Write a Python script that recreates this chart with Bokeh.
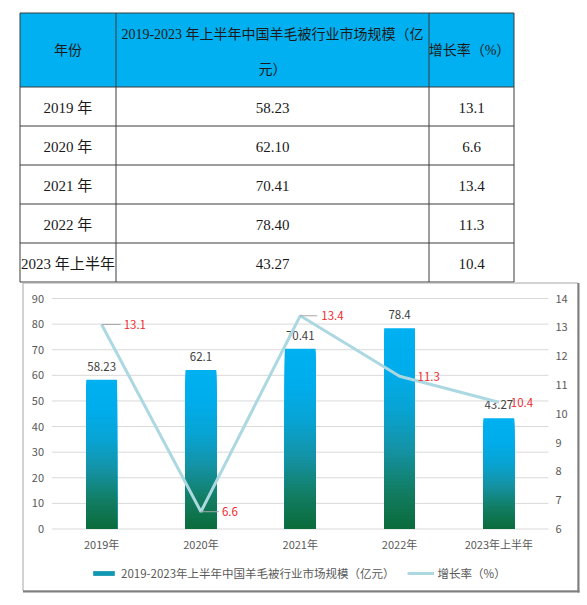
from bokeh.plotting import figure
from bokeh.models import Range1d, ColumnDataSource, Legend, LegendItem
from bokeh.core.properties import value
from bokeh.embed import file_html
from bokeh.resources import INLINE

# ---- data -------------------------------------------------------------
years = ["2019年", "2020年", "2021年", "2022年", "2023年上半年"]
market_size = [58.23, 62.10, 70.41, 78.40, 43.27]     # 亿元
growth_rate = [13.1, 6.6, 13.4, 11.3, 10.4]           # %
size_ticks = [0, 10, 20, 30, 40, 50, 60, 70, 80, 90]
rate_ticks = [6, 7, 8, 9, 10, 11, 12, 13, 14]
series_name = "2019-2023年上半年中国羊毛被行业市场规模（亿元）"
rate_name = "增长率（%）"
header_year = "年份"
header_size = "2019-2023 年上半年中国羊毛被行业市场规模（亿元）"
header_rate = "增长率（%）"

# ---- fonts & colours ----------------------------------------------------
SERIF = value("Liberation Serif, Noto Sans CJK SC")
SANS_NAME = "Noto Sans CJK SC"
SANS = value(SANS_NAME)
HEADER_BLUE = "#00b0f0"
BORDER = "#3c3c3c"
AXIS_TEXT = "#595959"
LABEL_RED = "#ee2a2f"
LINE_BLUE = "#acd8e2"

# ---- page geometry (pixels from the top-left corner) --------------------
W, H = 587, 605
PLOT_LEFT, PLOT_RIGHT = 51.5, 548.0
PLOT_TOP, PLOT_BOTTOM = 298.0, 528.5
BOX = dict(left=22.5, right=577.5, top=282.5, bottom=590.5)

# one canvas: the frame covers the whole page, the default ranges are page pixels
p = figure(width=W, height=H, x_range=Range1d(0, W), y_range=Range1d(H, 0),
           x_axis_type=None, y_axis_type=None, output_backend="svg",
           toolbar_location=None, min_border=0, outline_line_color=None)


def span_range(lo, hi, px_lo, px_hi, px_start, px_end):
    """Range whose values lo/hi land on page pixels px_lo/px_hi."""
    k = (hi - lo) / (px_hi - px_lo)
    return Range1d(lo + (px_start - px_lo) * k, lo + (px_end - px_lo) * k)


n_cat = len(years)
band = (PLOT_RIGHT - PLOT_LEFT) / n_cat
p.extra_x_ranges = {"cat": span_range(-0.5, n_cat - 0.5, PLOT_LEFT, PLOT_RIGHT, 0, W)}
p.extra_y_ranges = {
    "size": span_range(size_ticks[0], size_ticks[-1], PLOT_BOTTOM, PLOT_TOP, H, 0),
    "rate": span_range(rate_ticks[0], rate_ticks[-1], PLOT_BOTTOM, PLOT_TOP, H, 0),
}

# ======================= table =========================================
col_edges = [19.5, 115.5, 428.5, 513.5]
row_edges = [12.5, 86.5, 125.5, 164.5, 203.5, 242.5, 281.5]
col_mid = [(col_edges[i] + col_edges[i + 1]) / 2 for i in range(3)]
row_mid = [(row_edges[i] + row_edges[i + 1]) / 2 + 1 for i in range(1, len(row_edges) - 1)]

p.quad(left=[col_edges[0]], right=[col_edges[-1]], top=[row_edges[0]], bottom=[row_edges[1]],
       fill_color=HEADER_BLUE, line_color=None)
p.segment(x0=[col_edges[0]] * len(row_edges), x1=[col_edges[-1]] * len(row_edges),
          y0=row_edges, y1=row_edges, line_color=BORDER, line_width=1)
p.segment(x0=col_edges, x1=col_edges, y0=[row_edges[0]] * len(col_edges),
          y1=[row_edges[-1]] * len(col_edges), line_color=BORDER, line_width=1)

# header text (the long title wraps onto two lines)
size_line1, size_line2 = header_size[:-2], header_size[-2:]
p.text(x=[col_mid[0], col_mid[1], col_mid[1], col_mid[2] - 2],
       y=[50, 34, 69, 50],
       text=[header_year, size_line1, size_line2, header_rate],
       text_align="center", text_baseline="middle", text_font=SERIF,
       text_font_size="14px", text_color="#1a1a1a")

# body rows
tbl_years = [y.replace("年", " 年", 1) for y in years]
tbl_sizes = [f"{v:.2f}" for v in market_size]
tbl_rates = [f"{r:.1f}" for r in growth_rate]
for c, col_text in enumerate([tbl_years, tbl_sizes, tbl_rates]):
    p.text(x=[col_mid[c]] * len(col_text), y=row_mid, text=col_text,
           text_align="center", text_baseline="middle", text_font=SERIF,
           text_font_size="15px", text_color="#1a1a1a")

# ======================= chart =========================================
xs = list(range(n_cat))
CH = dict(x_range_name="cat", y_range_name="size")
CR = dict(x_range_name="cat", y_range_name="rate")

# chart box, slightly heavier on the right and bottom edges
p.quad(left=[BOX["left"]], right=[BOX["right"]], top=[BOX["top"]], bottom=[BOX["bottom"]],
       fill_color=None, line_color="#a6a6a6", line_width=1)
p.segment(x0=[BOX["right"] + 0.5, BOX["left"]], x1=[BOX["right"] + 0.5, BOX["right"] + 1.5],
          y0=[BOX["top"], BOX["bottom"] + 0.5], y1=[BOX["bottom"] + 1.5, BOX["bottom"] + 0.5],
          line_color="#7f7f7f", line_width=2)

# horizontal grid lines and value-axis labels
p.segment(x0=[-0.5] * len(size_ticks), x1=[n_cat - 0.5] * len(size_ticks),
          y0=size_ticks, y1=size_ticks, line_color="#d9d9d9", line_width=1, **CH)
p.text(x=[-0.5] * len(size_ticks), y=size_ticks, text=[str(t) for t in size_ticks],
       x_offset=-8, text_align="right", text_baseline="middle",
       text_font=SANS, text_font_size="11px", text_color=AXIS_TEXT, **CH)
p.text(x=[n_cat - 0.5] * len(rate_ticks), y=rate_ticks, text=[str(t) for t in rate_ticks],
       x_offset=7, text_align="left", text_baseline="middle",
       text_font=SANS, text_font_size="11px", text_color=AXIS_TEXT, **CR)
# category labels under the bars
p.text(x=xs, y=[size_ticks[0]] * n_cat, text=years, y_offset=7,
       text_align="center", text_baseline="top",
       text_font=SANS, text_font_size="11px", text_color=AXIS_TEXT, **CH)

# gradient bars: stacked solid bars from the base, each shorter one painted over
# the previous, so the colour runs from blue at the top to green at the base
stops = [(0.0, "#0b6b3a"), (0.2, "#127e66"), (0.4, "#1493a6"),
         (0.6, "#08a4d4"), (0.8, "#00adec"), (1.0, "#00b0f0")]


def grad(t):
    for (t0, c0), (t1, c1) in zip(stops[:-1], stops[1:]):
        if t <= t1:
            f = (t - t0) / (t1 - t0)
            a = [int(c0[i:i + 2], 16) for i in (1, 3, 5)]
            b = [int(c1[i:i + 2], 16) for i in (1, 3, 5)]
            return "#%02x%02x%02x" % tuple(round(a[k] + (b[k] - a[k]) * f) for k in range(3))
    return stops[-1][1]


n_slices = 60
slice_x, slice_top, slice_color = [], [], []
for k in range(n_slices):
    level = (n_slices - k) / n_slices
    col = grad(level - 0.5 / n_slices)
    for x, v in zip(xs, market_size):
        slice_x.append(x)
        slice_top.append(v * level)
        slice_color.append(col)
bar_src = ColumnDataSource(dict(x=slice_x, top=slice_top, color=slice_color))
bars = p.vbar(x="x", bottom=0, top="top", width=0.31, fill_color="color",
              line_color=None, source=bar_src, **CH)

# bar value labels
p.text(x=xs, y=market_size, text=[f"{v:g}" for v in market_size],
       text_align="center", text_baseline="bottom", y_offset=-9,
       text_font=SANS, text_font_size="11.5px", text_color="#404040", **CH)

# growth-rate line on the right-hand scale
line = p.line(x=xs, y=growth_rate, line_color=LINE_BLUE, line_width=3, **CR)

# leader lines and red labels for the rate points
leader_px = [19, 18, 17, 0, 0]
label_dx = [22, 21, 21, 18, 12]
lead = [(x, r, d) for x, r, d in zip(xs, growth_rate, leader_px) if d > 0]
p.segment(x0=[a for a, _, _ in lead], x1=[a + d / band for a, _, d in lead],
          y0=[r for _, r, _ in lead], y1=[r for _, r, _ in lead],
          line_color="#a6a6a6", line_width=1, **CR)
p.text(x=xs, y=growth_rate, text=[f"{r:g}" for r in growth_rate],
       x_offset=label_dx, text_align="left", text_baseline="middle",
       text_font=SANS, text_font_size="11.5px", text_color=LABEL_RED, **CR)

# legend under the category labels
legend = Legend(items=[LegendItem(label=series_name, renderers=[bars],
                                  index=int(0.55 * n_slices) * n_cat),
                       LegendItem(label=rate_name, renderers=[line])],
                orientation="horizontal", location=(90, 24),
                label_text_font=SANS_NAME, label_text_font_size="11.5px",
                label_text_color=AXIS_TEXT, glyph_width=27, glyph_height=6,
                label_standoff=4, spacing=12, padding=6, margin=0,
                border_line_color=None, background_fill_alpha=0)
p.add_layout(legend)

open("out.html", "w").write(file_html(p, INLINE))
